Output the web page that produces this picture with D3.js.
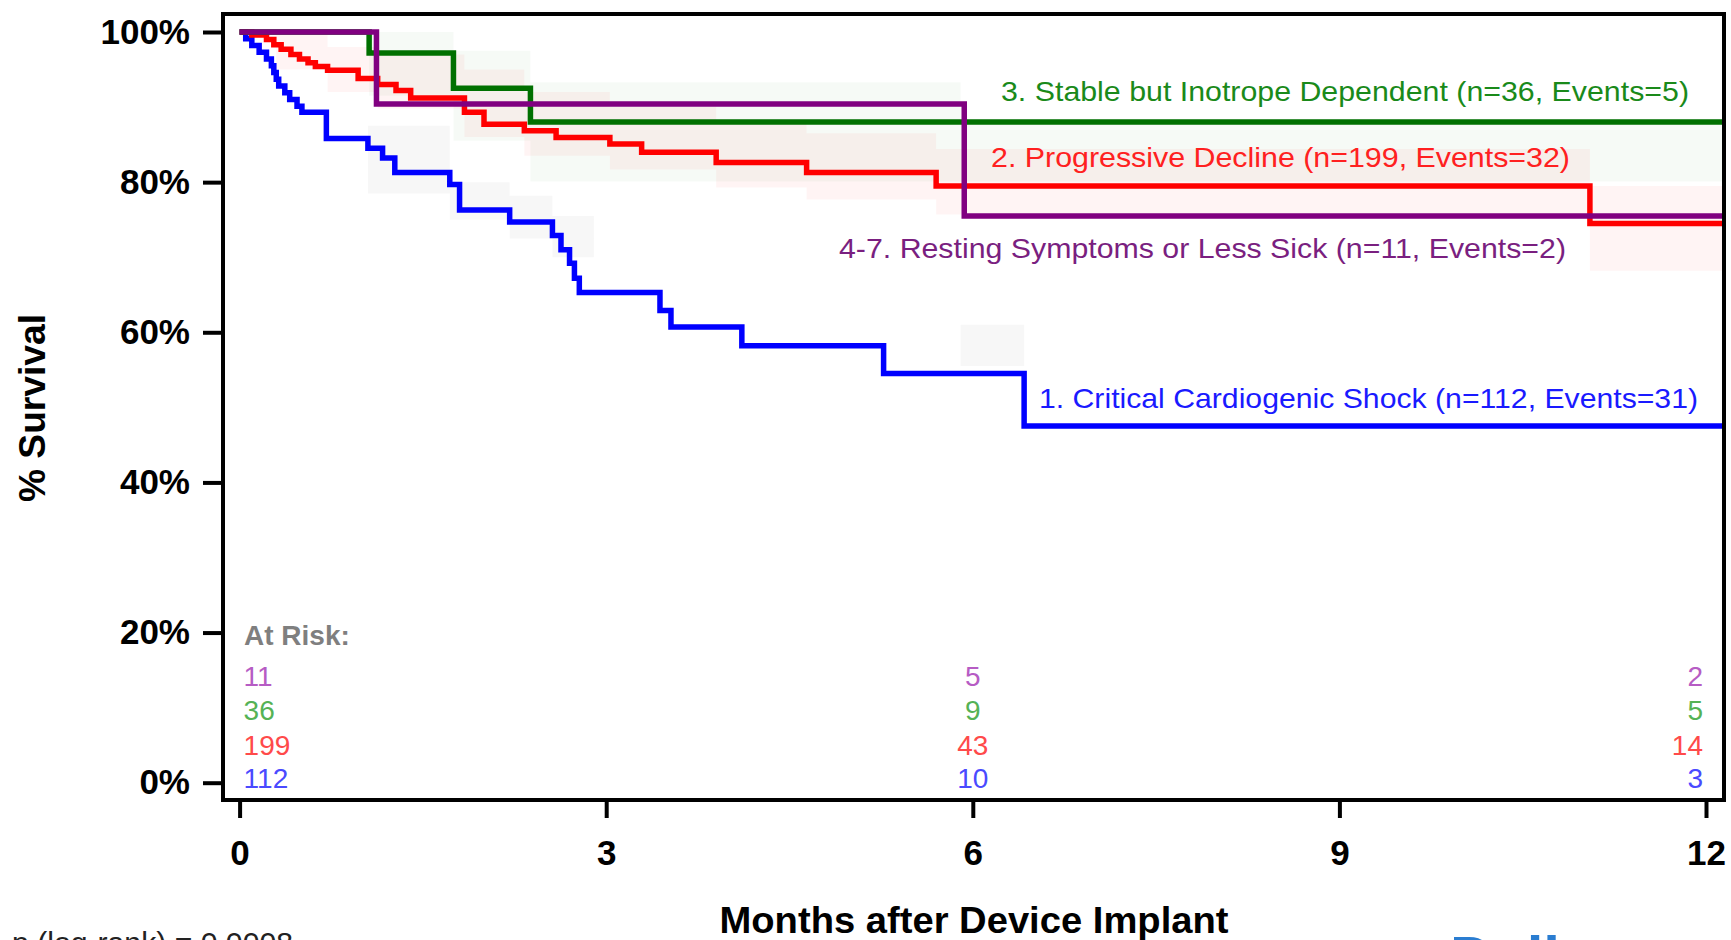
<!DOCTYPE html>
<html>
<head>
<meta charset="utf-8">
<script src="https://cdn.jsdelivr.net/npm/d3@7"></script>
<style>
  html, body { margin: 0; padding: 0; background: #fff; overflow: hidden; }
  svg { display: block; font-family: "Liberation Sans", Arial, sans-serif; }
</style>
</head>
<body>
<svg id="chart" width="1731" height="940"></svg>
<script>
// ---- data ----
const monthTicks = [0, 3, 6, 9, 12];
const survivalTicks = [0, 20, 40, 60, 80, 100];

const groupNames = [
  "1. Critical Cardiogenic Shock (n=112, Events=31)",
  "2. Progressive Decline (n=199, Events=32)",
  "3. Stable but Inotrope Dependent (n=36, Events=5)",
  "4-7. Resting Symptoms or Less Sick (n=11, Events=2)"
];

// [month, % surviving] — step changes
const shockSteps = [[0,100],[0.05,99.1],[0.10,98.2],[0.16,97.3],[0.22,96.4],[0.26,95.5],[0.28,94.6],
  [0.30,93.7],[0.32,92.8],[0.37,91.9],[0.41,91.0],[0.47,90.1],[0.51,89.3],[0.71,85.8],[1.05,84.5],
  [1.17,83.2],[1.27,81.3],[1.72,79.7],[1.80,76.3],[2.21,74.7],[2.56,72.9],[2.63,71.0],[2.70,69.2],
  [2.74,67.2],[2.78,65.3],[3.44,62.9],[3.53,60.7],[4.11,58.2],[5.27,54.5],[6.42,47.5]];
const declineSteps = [[0,100],[0.10,99.6],[0.22,99.0],[0.28,98.3],[0.34,97.7],[0.42,97.0],[0.49,96.4],
  [0.56,95.9],[0.62,95.4],[0.72,94.9],[0.97,93.8],[1.13,93.0],[1.28,92.2],[1.40,91.2],[1.84,89.3],
  [2.00,87.7],[2.33,86.85],[2.59,85.96],[3.03,85.07],[3.29,83.97],[3.90,82.6],[4.64,81.3],[5.70,79.5],
  [11.05,74.5]];
const inotropeSteps = [[0,100],[1.06,97.2],[1.75,92.5],[2.38,88.0]];
const restingSteps = [[0,100],[1.12,90.4],[5.93,75.5]];

// [month, lower, upper] faint confidence bands
const shockBand = [[0,100,100],[1.05,78.5,87.5],[1.72,75,80],[2.21,72.5,78.2],[2.56,70,75.5],
  [2.9,65.3,65.3],[5.9,55.5,61],[6.42,55.5,55.5]];
const declineBand = [[0,100,100],[0.3,95,100],[0.72,92,98],[1.13,89.8,97],[1.84,86,95],[2.33,83.5,92],
  [3.03,81.7,90],[3.9,79.3,88.3],[4.64,77.7,86.5],[5.7,75.7,84.4],[11.05,68.2,79.5]];
const inotropeBand = [[0,100,100],[1.06,91.5,100],[1.75,85.5,97.5],[2.38,80.1,93.3],[5.9,80.1,88.0]];

// patients at risk at 0, 6 and 12 months
const riskMonths = [0, 6, 12];
const riskShock = [112, 10, 3];
const riskDecline = [199, 43, 14];
const riskInotrope = [36, 9, 5];
const riskResting = [11, 5, 2];

// ---- drawing ----
const svg = d3.select("#chart");
const x = d3.scaleLinear([0, 12], [239.6, 1706]);
const y = d3.scaleLinear([0, 100], [782.7, 32]);
const frame = {left: 223, top: 14, right: 1724, bottom: 800};
const lastMonth = x.invert(frame.right - 2);

const endAt = s => s.concat([[lastMonth, s[s.length - 1][1]]]);
const endBand = b => b.concat([[lastMonth, b[b.length - 1][1], b[b.length - 1][2]]]);

// bands
const area = d3.area().curve(d3.curveStepAfter)
  .x(d => x(d[0])).y0(d => y(d[1])).y1(d => y(d[2]));
[[shockBand, "rgba(0,0,0,0.03)"], [inotropeBand, "rgba(0,110,0,0.035)"], [declineBand, "rgba(255,0,0,0.045)"]]
  .forEach(([b, fill]) => {
    svg.append("path").attr("d", area(endBand(b))).attr("fill", fill);
  });

// survival curves
const line = d3.line().curve(d3.curveStepAfter).x(d => x(d[0])).y(d => y(d[1]));
const curves = [
  {steps: shockSteps, color: "#0000ff"},
  {steps: declineSteps, color: "#ff0000"},
  {steps: inotropeSteps, color: "#007000"},
  {steps: restingSteps, color: "#800080"}
];
svg.append("g").selectAll("path")
  .data(curves)
  .join("path")
    .attr("d", d => line(endAt(d.steps)))
    .attr("fill", "none")
    .attr("stroke", d => d.color)
    .attr("stroke-width", 5.5)
    .attr("stroke-linejoin", "miter");

// frame
svg.append("rect")
  .attr("x", frame.left).attr("y", frame.top)
  .attr("width", frame.right - frame.left).attr("height", frame.bottom - frame.top)
  .attr("fill", "none").attr("stroke", "#000").attr("stroke-width", 4);

// axes
const yAxis = svg.append("g")
  .attr("transform", `translate(${frame.left},0)`)
  .call(d3.axisLeft(y).tickValues(survivalTicks).tickFormat(d => d + "%").tickSize(20).tickPadding(13));
const xAxis = svg.append("g")
  .attr("transform", `translate(0,${frame.bottom})`)
  .call(d3.axisBottom(x).tickValues(monthTicks).tickFormat(d3.format("d")).tickSize(18).tickPadding(22));
[xAxis, yAxis].forEach(g => {
  g.select(".domain").remove();
  g.selectAll(".tick line").attr("stroke", "#000").attr("stroke-width", 4);
  g.selectAll(".tick text")
    .attr("fill", "#000")
    .style("font-family", "'Liberation Sans', Arial, sans-serif")
    .style("font-size", "35px")
    .style("font-weight", "bold");
});

// axis titles
svg.append("text")
  .attr("x", 974).attr("y", 933)
  .attr("text-anchor", "middle")
  .attr("textLength", 509).attr("lengthAdjust", "spacingAndGlyphs")
  .style("font-size", "37px").style("font-weight", "bold")
  .text("Months after Device Implant");
svg.append("text")
  .attr("transform", "translate(45,408) rotate(-90)")
  .attr("text-anchor", "middle")
  .attr("textLength", 188).attr("lengthAdjust", "spacingAndGlyphs")
  .style("font-size", "37px").style("font-weight", "bold")
  .text("% Survival");

// group labels next to the curves
const labelSpots = [
  {name: groupNames[2], color: "#1a8a1a", x0: 1001, base: 101, w: 688},
  {name: groupNames[1], color: "#ff2020", x0: 991, base: 167, w: 579},
  {name: groupNames[3], color: "#7a1f80", x0: 839, base: 258, w: 727},
  {name: groupNames[0], color: "#1a1aff", x0: 1039, base: 408, w: 659}
];
svg.append("g").selectAll("text")
  .data(labelSpots)
  .join("text")
    .attr("x", d => d.x0).attr("y", d => d.base)
    .attr("fill", d => d.color)
    .attr("textLength", d => d.w).attr("lengthAdjust", "spacingAndGlyphs")
    .style("font-size", "28px")
    .text(d => d.name);

// at risk table
svg.append("text")
  .attr("x", 244).attr("y", 645)
  .attr("fill", "#7f7f7f")
  .style("font-size", "28px").style("font-weight", "bold")
  .text("At Risk:");
const riskRows = [
  {vals: riskResting, color: "#b65cc4", base: 686},
  {vals: riskInotrope, color: "#55b255", base: 720},
  {vals: riskDecline, color: "#ff4a4a", base: 755},
  {vals: riskShock, color: "#4a4aff", base: 788}
];
riskRows.forEach(r => {
  svg.append("g").selectAll("text")
    .data(riskMonths.map((m, i) => ({m, v: r.vals[i]})))
    .join("text")
      .attr("x", d => d.m === 0 ? x(0) + 4 : d.m === 12 ? x(12) - 3 : x(d.m))
      .attr("y", r.base)
      .attr("text-anchor", d => d.m === 0 ? "start" : d.m === 12 ? "end" : "middle")
      .attr("fill", r.color)
      .style("font-size", "28px")
      .text(d => d.v);
});

// footer texts, cut by the page edge as in the original
svg.append("text")
  .attr("x", 12).attr("y", 953)
  .attr("fill", "#222")
  .attr("textLength", 281).attr("lengthAdjust", "spacingAndGlyphs")
  .style("font-size", "30px")
  .text("p (log-rank) = 0.0008");
svg.append("text")
  .attr("x", 1450).attr("y", 978)
  .attr("fill", "#2a7dd1")
  .style("font-size", "60px").style("font-weight", "bold")
  .text("Dallas");
</script>
</body>
</html>
